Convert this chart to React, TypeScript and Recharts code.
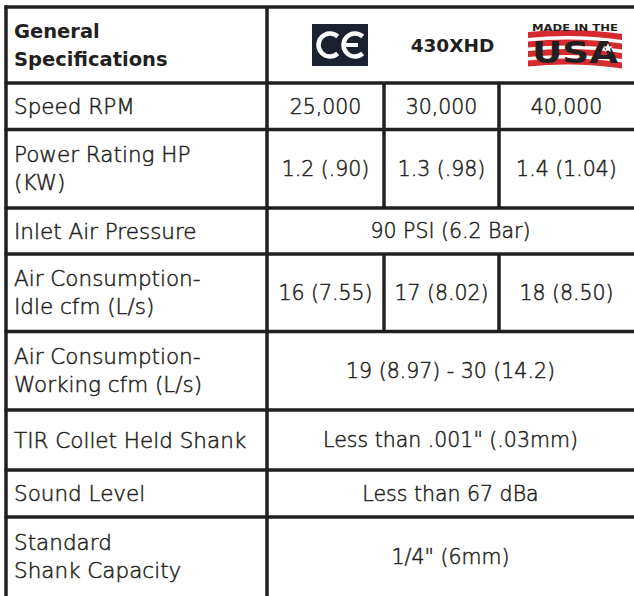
import { ReferenceLine, Scatter, ScatterChart, XAxis, YAxis } from 'recharts'

// spec names (left column), one entry per table row
const specNames = [
	['Speed RPM'],
	['Power Rating HP', '(KW)'],
	['Inlet Air Pressure'],
	['Air Consumption-', 'Idle cfm (L/s)'],
	['Air Consumption-', 'Working cfm (L/s)'],
	['TIR Collet Held Shank'],
	['Sound Level'],
	['Standard', 'Shank Capacity'],
]

// values per row: three entries = one per model column, one entry = merged cell
const speedRpm = ['25,000', '30,000', '40,000']
const powerRating = ['1.2 (.90)', '1.3 (.98)', '1.4 (1.04)']
const inletPressure = ['90 PSI (6.2 Bar)']
const idleConsumption = ['16 (7.55)', '17 (8.02)', '18 (8.50)']
const workingConsumption = ['19 (8.97) - 30 (14.2)']
const tirCollet = ['Less than .001" (.03mm)']
const soundLevel = ['Less than 67 dBa']
const shankCapacity = ['1/4" (6mm)']

const headerTitle = ['General', 'Specifications']
const headerItems = ['CE', '430XHD', 'USA']

const rowValues = [speedRpm, powerRating, inletPressure, idleConsumption, workingConsumption, tirCollet, soundLevel, shankCapacity]

// layout of the grid (pixels in chart space)
const W = 634
const H = 596
const rowEdges = [7, 83, 129.5, 208, 254, 331.5, 410, 470, 517, 596]
const colEdges = [6, 267, 384, 499, W]
const INK = '#231f20'
const FONT = '"DejaVu Sans", sans-serif'

type Cell = { x: number; y: number; lines: string[]; anchor: 'start' | 'middle'; kind: string }

const labelCells: Cell[] = []
const valueCells: Cell[] = []
specNames.forEach((lines, i) => {
	const y = (rowEdges[i + 1] + rowEdges[i + 2]) / 2
	labelCells.push({ x: 14, y, lines, anchor: 'start', kind: 'label' })
	const vals = rowValues[i]
	if (vals.length === 1) {
		valueCells.push({ x: (colEdges[1] + colEdges[4]) / 2, y, lines: [vals[0]], anchor: 'middle', kind: 'value' })
	} else {
		vals.forEach((v, j) => {
			valueCells.push({ x: (colEdges[j + 1] + colEdges[j + 2]) / 2, y, lines: [v], anchor: 'middle', kind: 'value' })
		})
	}
})

const headY = (rowEdges[0] + rowEdges[1]) / 2
const headerCells: Cell[] = [
	{ x: 14, y: headY, lines: headerTitle, anchor: 'start', kind: 'title' },
	{ x: 340, y: headY, lines: [headerItems[0]], anchor: 'middle', kind: 'ce' },
	{ x: 452.5, y: headY, lines: [headerItems[1]], anchor: 'middle', kind: 'model' },
	{ x: 575, y: headY, lines: [headerItems[2]], anchor: 'middle', kind: 'usa' },
]

// which rows are split into three model columns
const splitRows = rowValues.map((v, i) => (v.length === 3 ? i : -1)).filter((i) => i >= 0)

const CeMark = ({ cx, cy }: { cx: number; cy: number }) => {
	const r = 11.5
	const a = (48 * Math.PI) / 180
	const arc = (ox: number) =>
		`M${ox + r * Math.cos(a)},${cy - r * Math.sin(a)} A${r},${r} 0 1 0 ${ox + r * Math.cos(a)},${cy + r * Math.sin(a)}`
	return (
		<g>
			<rect x={cx - 28} y={cy - 21} width={56} height={42} fill='#1b2130' />
			<path d={arc(cx - 10)} stroke='#fff' strokeWidth={4.5} fill='none' />
			<path d={arc(cx + 15)} stroke='#fff' strokeWidth={4.5} fill='none' />
			<line x1={cx + 5} x2={cx + 18} y1={cy} y2={cy} stroke='#fff' strokeWidth={4} />
		</g>
	)
}

const UsaMark = ({ cx, cy }: { cx: number; cy: number }) => {
	const stripes = [0, 1, 2, 3]
	const star = Array.from({ length: 10 }, (_, k) => {
		const rr = k % 2 === 0 ? 5 : 2.2
		const ang = -Math.PI / 2 + (k * Math.PI) / 5
		return `${cx + 33 + rr * Math.cos(ang)},${cy + 3 + rr * Math.sin(ang)}`
	}).join(' ')
	return (
		<g>
			{stripes.map((s) => {
				const top = cy - 13 + s * 9.5
				return (
					<path
						key={s}
						d={`M${cx - 47},${top} Q${cx},${top - 5} ${cx + 47},${top + 2} L${cx + 47},${top + 8} Q${cx},${top + 1} ${cx - 47},${top + 6} Z`}
						fill='#d52b2e'
					/>
				)
			})}
			<text x={cx} y={cy - 14} textAnchor='middle' fontFamily={FONT} fontWeight='bold' fontSize={9} textLength={86} lengthAdjust='spacingAndGlyphs' fill={INK}>
				MADE IN THE
			</text>
			<text x={cx} y={cy + 18} textAnchor='middle' fontFamily={FONT} fontWeight='bold' fontSize={31} textLength={86} lengthAdjust='spacingAndGlyphs' fill={INK}>
				USA
			</text>
			<polygon points={star} fill='#fff' />
		</g>
	)
}

const CellText = (props: any) => {
	const { cx, cy, payload } = props
	const c = payload as Cell
	if (c.kind === 'ce') return <CeMark cx={cx} cy={cy} />
	if (c.kind === 'usa') return <UsaMark cx={cx} cy={cy} />
	const bold = c.kind === 'title' || c.kind === 'model'
	const size = c.kind === 'title' ? 19.5 : c.kind === 'model' ? 18.5 : c.kind === 'label' ? 21.5 : 20.5
	const lh = 28
	const first = cy - ((c.lines.length - 1) * lh) / 2 + size * 0.36
	return (
		<text
			x={cx}
			y={first}
			textAnchor={c.anchor}
			fontFamily={FONT}
			fontSize={size}
			fontWeight={bold ? 'bold' : 300}
			fill={INK}
			stroke={bold ? 'none' : INK}
			strokeWidth={0.5}
		>
			{c.lines.map((ln, k) => (
				<tspan key={k} x={cx} y={first + k * lh}>
					{ln}
				</tspan>
			))}
		</text>
	)
}

const App = () => {
	return (
		<div style={{ position: 'absolute', left: 0, top: 0, background: '#fff' }}>
			<ScatterChart width={W} height={H} margin={{ top: 0, right: 0, bottom: 0, left: 0 }}>
				<XAxis type='number' dataKey='x' domain={[0, W]} allowDataOverflow hide />
				<YAxis type='number' dataKey='y' domain={[0, H]} allowDataOverflow reversed hide />
				{/* outer frame */}
				<ReferenceLine segment={[{ x: 4.5, y: rowEdges[0] }, { x: W, y: rowEdges[0] }]} stroke={INK} strokeWidth={3.5} />
				<ReferenceLine segment={[{ x: colEdges[0], y: 5.5 }, { x: colEdges[0], y: H }]} stroke={INK} strokeWidth={3.5} />
				<ReferenceLine segment={[{ x: colEdges[1], y: rowEdges[0] }, { x: colEdges[1], y: H }]} stroke={INK} strokeWidth={3.5} />
				{/* row separators */}
				{rowEdges.slice(1, -1).map((y) => (
					<ReferenceLine key={`r${y}`} segment={[{ x: 4.5, y }, { x: W, y }]} stroke={INK} strokeWidth={3.5} />
				))}
				{/* model column dividers on split rows */}
				{splitRows.flatMap((i) =>
					[colEdges[2], colEdges[3]].map((x) => (
						<ReferenceLine
							key={`c${i}-${x}`}
							segment={[{ x, y: rowEdges[i + 1] }, { x, y: rowEdges[i + 2] }]}
							stroke={INK}
							strokeWidth={3.5}
						/>
					))
				)}
				<Scatter data={headerCells} shape={CellText} isAnimationActive={false} />
				<Scatter data={labelCells} shape={CellText} isAnimationActive={false} />
				<Scatter data={valueCells} shape={CellText} isAnimationActive={false} />
			</ScatterChart>
		</div>
	)
}

export default App
